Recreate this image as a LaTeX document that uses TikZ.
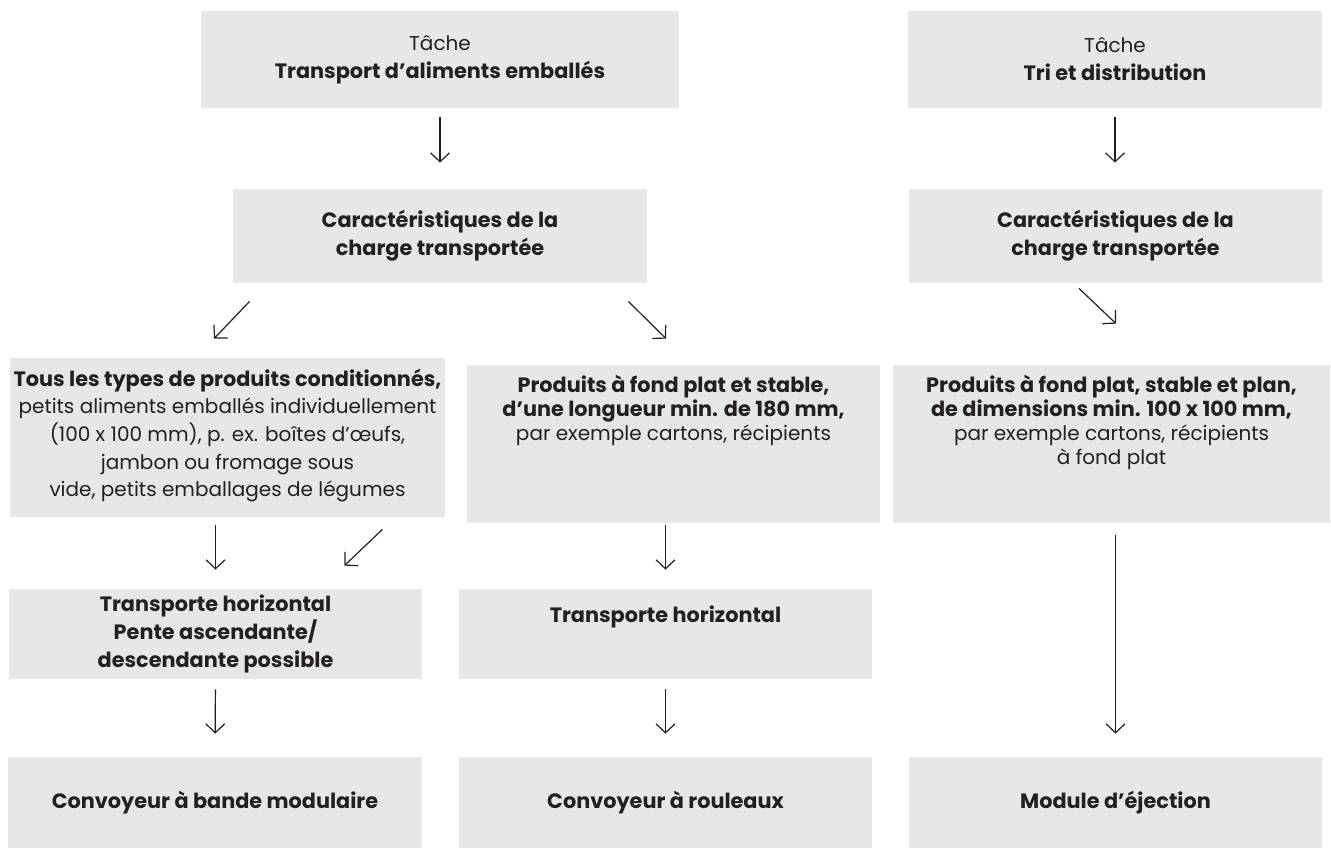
\documentclass[tikz,border=0pt]{standalone}
\usepackage{fontspec}
\setmainfont{Poppins}[BoldFeatures={Scale=1.04}]
\usepackage{xcolor}
\usetikzlibrary{arrows.meta}
\definecolor{boxgray}{HTML}{E6E7E8}
\definecolor{ink}{HTML}{231F20}
% text pinned to the top of a fixed-size box
\newcommand{\topbox}[4][13.5pt]{\parbox[c][#2][t]{#3}{\centering\rule{0pt}{#1}#4}}
\tikzset{
  box/.style={fill=boxgray, inner sep=0pt, align=center,
              font=\fontsize{10}{14}\selectfont},
  heavy/.style={font=\fontsize{10}{14}\selectfont\bfseries},
  boxsize/.style 2 args={minimum width=#1*0.5pt, minimum height=#2*0.5pt},
  arr/.style={-{Straight Barb[length=4.5pt, width=9.5pt]}, line width=0.6pt, draw=ink}}

\begin{document}
\begin{tikzpicture}[x=0.5pt, y=-0.5pt, text=ink]
\useasboundingbox (0,0) rectangle (1331,848);
% --- tasks ---
\node[box, boxsize={478}{97}] (task1) at (440,59.5)
  {Tâche\\\textbf{Transport d’aliments emballés}};
\node[box, boxsize={414}{97}] (task2) at (1115,59.5)
  {Tâche\\\textbf{Tri et distribution}};
% --- load characteristics ---
\node[box, heavy, boxsize={414}{94}] (carac1) at (440,236)
  {Caractéristiques de la\\charge transportée};
\node[box, heavy, boxsize={413}{94}] (carac2) at (1115.5,236)
  {Caractéristiques de la\\charge transportée};
% --- products ---
\node[box, font=\fontsize{10}{13.85}\selectfont, boxsize={435}{159}] (prod1) at (227.5,437.5)
  {\topbox[14pt]{79.5pt}{217.5pt}{\textbf{Tous les types de produits conditionnés,}\\
   petits aliments emballés individuellement\\ (100 x 100 mm), p. ex. boîtes d’œufs,\\
   jambon ou fromage sous\\ vide, petits emballages de légumes}};
\node[box, font=\fontsize{10}{12}\selectfont, boxsize={413}{158}] (prod2) at (673.5,444)
  {\topbox{79pt}{206.5pt}{\textbf{Produits à fond plat et stable,\\ d’une longueur min. de 180 mm,}\\
   par exemple cartons, récipients}};
\node[box, font=\fontsize{10}{12}\selectfont, boxsize={437}{158}] (prod3) at (1111.5,444)
  {\topbox{79pt}{218.5pt}{\textbf{Produits à fond plat, stable et plan,\\ de dimensions min. 100 x 100 mm,}\\
   par exemple cartons, récipients\\ à fond plat}};
% --- transport ---
\node[box, heavy, boxsize={413}{90}] (trans1) at (215.5,634)
  {Transporte horizontal\\Pente ascendante/\\descendante possible};
\node[box, heavy, boxsize={413}{90}] (trans2) at (665.5,634)
  {\topbox[16.5pt]{45pt}{206.5pt}{Transporte horizontal}};
% --- conveyors ---
\node[box, heavy, boxsize={414}{91}] (conv1) at (215,802.5) {Convoyeur à bande modulaire};
\node[box, heavy, boxsize={413}{91}] (conv2) at (665.5,802.5) {Convoyeur à rouleaux};
\node[box, heavy, boxsize={413}{91}] (conv3) at (1115.5,802.5) {Module d’éjection};
% --- arrows ---
\draw[arr, shorten <=4.5pt, shorten >=13pt] (task1.south) -- (carac1.north);
\draw[arr, shorten <=4.5pt, shorten >=13pt] (task2.south) -- (task2.south |- carac2.north);
\draw[arr] ([shift={(17,18)}]carac1.south west) -- ([shift={(-13.5,-19)}]prod1.north);
\draw[arr] ([shift={(-19,18)}]carac1.south east) -- ([shift={(-7.5,-26)}]prod2.north);
\draw[arr] ([shift={(-36.5,5)}]carac2.south) -- ([shift={(4.5,-41)}]prod3.north);
\draw[arr, shorten <=4pt, shorten >=9.5pt] (trans1.north |- prod1.south) -- (trans1.north);
\draw[arr] ([shift={(-63,12)}]prod1.south east) -- ([shift={(-78,-23)}]trans1.north east);
\draw[arr, shorten <=1pt, shorten >=9.5pt] (trans2.north |- prod2.south) -- (trans2.north);
\draw[arr, shorten <=6pt, shorten >=11.5pt] (conv3.north |- prod3.south) -- (conv3.north);
\draw[arr, shorten <=5pt, shorten >=11.5pt] (trans1.south) -- (conv1.north);
\draw[arr, shorten <=5pt, shorten >=11.5pt] (trans2.south) -- (conv2.north);
\end{tikzpicture}
\end{document}
